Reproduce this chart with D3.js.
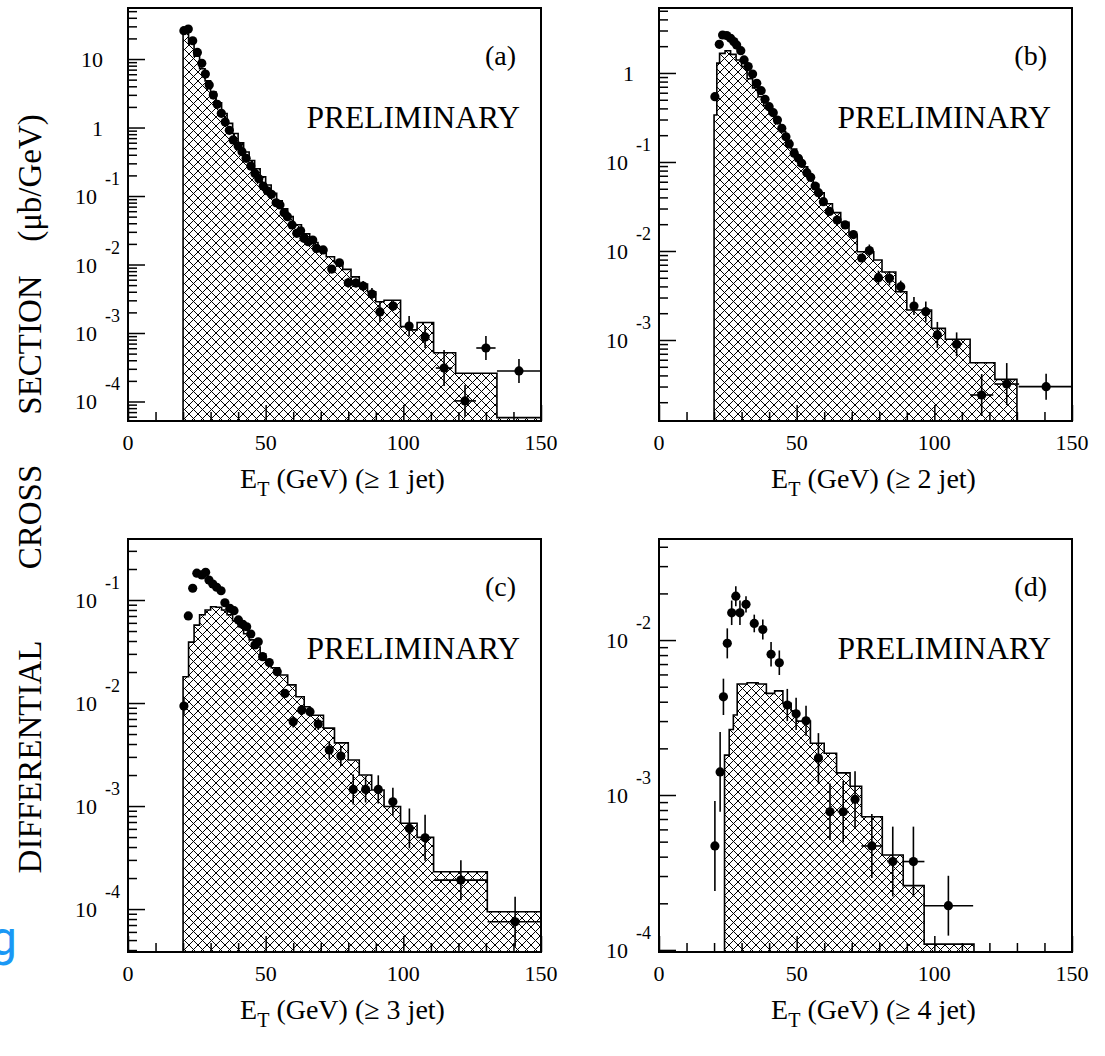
<!DOCTYPE html>
<html>
<head>
<meta charset="utf-8">
<script src="https://cdn.jsdelivr.net/npm/d3@7"></script>
<style>
body { margin: 0; background: #fff; }
svg text { font-family: "Liberation Serif", "Times New Roman", serif; fill: #000; }
</style>
</head>
<body>
<div id="chart"></div>
<script>

// ---- (a) >= 1 jet ----
var aEt    = [20.3,21.9,23.5,25.2,26.8,28.1,29.5,31.0,32.4,33.9,35.3,36.8,38.2,40.0,41.4,42.9,44.6,46.1,47.5,49.1,
              50.6,52.1,53.8,55.2,56.7,57.9,59.6,61.3,62.7,63.9,65.5,67.1,68.5,70.9,74.0,76.8,80.0,82.8,85.4,88.6,
              91.5,96.3,102.1,107.9,114.8,122.4,130.0,142.0];
var aXsec  = [25.9,27.4,18.5,12.5,8.65,6.04,4.17,2.98,2.18,1.61,1.20,0.91,0.658,0.537,0.444,0.355,0.274,0.214,0.179,0.140,
              0.119,0.106,0.0798,0.0740,0.0570,0.0499,0.0378,0.0285,0.0311,0.0241,0.0215,0.0228,0.0172,0.0163,0.00859,0.0106,0.00542,0.00537,0.00485,0.00371,
              0.00203,0.00248,0.00126,0.000875,0.000308,0.000102,0.000604,0.000279];
var aErr   = [0.02,0.02,0.02,0.02,0.02,0.02,0.02,0.02,0.02,0.02,0.02,0.02,0.02,0.02,0.02,0.02,0.03,0.03,0.03,0.03,
              0.03,0.03,0.04,0.04,0.04,0.05,0.05,0.06,0.06,0.06,0.07,0.07,0.08,0.08,0.14,0.12,0.18,0.16,0.18,0.22,
              0.40,0.18,0.40,0.45,0.83,0.71,0.50,0.50];
var aEtErr = [0,0,0,0,0,0,0,0,0,0,0,0,0,0,0,0,0,0,0,0,0,0,0,0,0,0,0,0,0,0,0,0,0,0,0,0,0,0,0,0,
              0,1.5,0,0,3,4,3.5,8];
var aEdges = [20,22,24,26,28,30,32,34,36,38,40,42,44,46,48,50,52,54,56,58,60,
              63,66,69,72,75,78,81,84,87,90,93,99,102,105,111,119,134,150];
var aMc    = [24,17,11,7.2,4.8,3.3,2.3,1.6,1.15,0.82,0.6,0.44,0.33,0.25,0.19,0.145,0.11,0.085,0.065,0.05,
              0.038,0.028,0.021,0.016,0.013,0.0106,0.0085,0.0066,0.0052,0.0040,0.00286,0.0030,0.00124,0.00111,0.00142,0.000515,0.000258,0.0000581];

// ---- (b) >= 2 jet ----
var bEt    = [20.3,21.9,23.1,24.6,26.0,27.2,28.2,29.7,30.9,32.4,34.0,35.5,37.1,38.5,40.0,41.5,43.0,44.6,46.1,47.3,
              49.1,50.6,51.8,53.7,55.1,56.7,57.9,59.7,61.9,64.7,67.6,70.6,73.6,76.4,79.7,83.7,87.8,92.6,96.9,101.1,
              108.1,117.2,126.3,140.6];
var bXsec  = [0.542,2.10,2.67,2.63,2.45,2.25,2.06,1.78,1.40,1.18,0.974,0.766,0.633,0.506,0.418,0.358,0.296,0.239,0.192,0.159,
              0.125,0.110,0.0967,0.0759,0.0673,0.0537,0.0452,0.0358,0.0278,0.0223,0.0196,0.0153,0.00834,0.0101,0.00501,0.00493,0.00397,0.00241,0.00208,0.00114,
              0.000895,0.000241,0.000320,0.000299];
var bErr   = [0.03,0.02,0.02,0.02,0.02,0.02,0.02,0.02,0.02,0.02,0.02,0.02,0.02,0.02,0.03,0.03,0.03,0.03,0.03,0.03,
              0.04,0.04,0.04,0.05,0.05,0.05,0.05,0.06,0.06,0.07,0.08,0.09,0.11,0.17,0.20,0.20,0.17,0.26,0.30,0.40,
              0.36,0.72,0.72,0.40];
var bEtErr = [0,0,0,0,0,0,0,0,0,0,0,0,0,0,0,0,0,0,0,0,0,0,0,0,0,0,0,0,0,0,0,0,0,0,1.5,0,1.5,0,0,0,
              2,4.2,4.5,10];
var bEdges = [20,21,22,24,26,28,30,32,34,36,38,40,42,44,46,48,50,52,54,56,58,60,
              63,66,69,72,78,81,86,90,99,104,113,122,130];
var bMc    = [0.337,1.29,1.66,1.78,1.62,1.40,1.18,0.86,0.68,0.54,0.43,0.345,0.275,0.22,0.175,0.14,0.11,0.088,0.07,0.056,0.045,
              0.034,0.027,0.021,0.0151,0.0098,0.00792,0.0058,0.00349,0.00217,0.00135,0.00102,0.000556,0.000361];

// ---- (c) >= 3 jet ----
var cEt    = [20.3,21.9,23.5,25.0,26.8,28.2,29.4,30.8,32.2,33.8,35.2,37.0,38.5,40.1,41.7,43.1,44.6,46.1,47.3,48.9,
              51.3,54.2,57.0,60.0,63.1,66.1,69.1,73.1,77.3,81.8,86.3,90.9,96.2,102.2,107.9,120.9,140.6];
var cXsec  = [0.00935,0.070,0.130,0.182,0.175,0.186,0.156,0.143,0.133,0.123,0.094,0.083,0.0787,0.064,0.058,0.055,0.0468,0.0366,0.0393,0.0282,
              0.0247,0.0201,0.0124,0.00658,0.00855,0.00824,0.00625,0.0035,0.00306,0.00145,0.00145,0.00145,0.0011,0.000607,0.000492,0.000191,0.0000753];
var cErr   = [0.22,0.04,0.03,0.03,0.03,0.03,0.03,0.03,0.03,0.03,0.03,0.03,0.03,0.04,0.04,0.04,0.04,0.05,0.05,0.05,
              0.05,0.06,0.09,0.14,0.12,0.12,0.14,0.22,0.25,0.40,0.34,0.37,0.37,0.56,0.67,0.56,0.75];
var cEtErr = [0,0,0,0,0,0,0,0,0,0,0,0,0,0,0,0,0,0,0,0,0,0,0,0,0,0,0,0,0,0,0,0,1.5,0,0,9.7,10];
var cEdges = [20,22,24,26,28,30,32,34,36,38,40,42,44,46,48,50,52,
              55,58,61,64,66,71,75,80,84,88.5,93,99,105,111,130.5,150];
var cMc    = [0.018,0.039,0.057,0.072,0.080,0.086,0.085,0.080,0.072,0.063,0.055,0.047,0.041,0.035,0.030,0.026,
              0.022,0.0187,0.015,0.0115,0.0092,0.0076,0.0057,0.0041,0.0028,0.0020,0.00143,0.00099,0.00068,0.000496,0.00023,0.0000942];

// ---- (d) >= 4 jet ----
var dEt    = [20.3,22.2,23.4,24.8,26.4,27.9,29.4,31.6,34.6,37.7,40.7,43.7,46.6,49.8,53.4,57.9,62.1,66.9,71.2,77.3,
              84.9,92.4,105.1];
var dXsec  = [0.000469,0.00141,0.00430,0.00952,0.0150,0.0192,0.0150,0.0170,0.0128,0.0117,0.0081,0.00714,0.00381,0.00334,0.00301,0.00173,0.00078,0.00078,0.000938,0.000469,
              0.000372,0.000372,0.000193];
var dErr   = [0.95,0.81,0.31,0.25,0.20,0.16,0.20,0.13,0.14,0.16,0.20,0.20,0.27,0.27,0.25,0.45,0.52,0.58,0.52,0.61,
              0.68,0.68,0.56];
var dEtErr = [0,0,0,0,0,0,0,0,0,0,0,0,0,0,0,0,0,2,0,3.8,2,4,9];
var dEdges = [23.8,25.5,27,28.4,32,36,39,42,45,48,50,55,60,64.5,69.4,73.6,81.1,88.7,96.3,114.4];
var dMc    = [0.00181,0.00265,0.00328,0.0052,0.0053,0.0052,0.00453,0.0047,0.0039,0.0035,0.0030,0.00216,0.00186,0.00139,0.00114,0.000724,0.00041,0.00026,0.000109];

// axis ranges / labels
var xTicks = [0, 50, 100, 150];
var panelNames = ["(a)", "(b)", "(c)", "(d)"];
var jetLabels = ["\u2265 1 jet", "\u2265 2 jet", "\u2265 3 jet", "\u2265 4 jet"];
var yRanges = [[5.19e-5, 55.6], [1.23e-4, 5.37], [3.83e-5, 0.391], [9.7e-5, 0.0449]];
var yExps = [[1, 0, -1, -2, -3, -4], [0, -1, -2, -3], [-1, -2, -3, -4], [-2, -3, -4]];

var panels = [
    {et: aEt, xs: aXsec, err: aErr, etErr: aEtErr, edges: aEdges, mc: aMc},
    {et: bEt, xs: bXsec, err: bErr, etErr: bEtErr, edges: bEdges, mc: bMc},
    {et: cEt, xs: cXsec, err: cErr, etErr: cEtErr, edges: cEdges, mc: cMc},
    {et: dEt, xs: dXsec, err: dErr, etErr: dEtErr, edges: dEdges, mc: dMc}
];

var width = 1105, height = 1056;
var frames = [{left: 128, top: 8}, {left: 659, top: 8}, {left: 128, top: 539}, {left: 659, top: 539}];
var fw = 413, fh = 413;

var svg = d3.select("#chart")
    .append("svg")
    .attr("width", width)
    .attr("height", height);

svg.append("rect").attr("width", width).attr("height", height).attr("fill", "#fff");

var defs = svg.append("defs");
var pat = defs.append("pattern")
    .attr("id", "hatch")
    .attr("patternUnits", "userSpaceOnUse")
    .attr("width", 9)
    .attr("height", 9);
pat.append("rect").attr("width", 9).attr("height", 9).attr("fill", "#fff");
pat.append("path")
    .attr("d", "M-1,1L1,-1M0,9L9,0M8,10L10,8M-1,8L1,10M0,0L9,9M8,-1L10,1")
    .attr("stroke", "#000")
    .attr("stroke-width", 1);

panels.forEach(function(p, i) {
    var f = frames[i];
    var left = f.left, top = f.top, right = left + fw, bottom = top + fh;

    var x = d3.scaleLinear().domain([0, 150]).range([left, right]);
    var y = d3.scaleLog().domain(yRanges[i]).range([bottom, top]);

    defs.append("clipPath").attr("id", "clip" + i)
        .append("rect").attr("x", left).attr("y", top).attr("width", fw).attr("height", fh);

    var g = svg.append("g");

    // MC histogram, hatched
    var pts = [[x(p.edges[0]), bottom]];
    p.mc.forEach(function(v, k) {
        pts.push([x(p.edges[k]), y(v)]);
        pts.push([x(p.edges[k + 1]), y(v)]);
    });
    pts.push([x(p.edges[p.edges.length - 1]), bottom]);

    g.append("path")
        .attr("clip-path", "url(#clip" + i + ")")
        .attr("d", d3.line()(pts) + "Z")
        .attr("fill", "url(#hatch)")
        .attr("stroke", "#000")
        .attr("stroke-width", 1.6)
        .attr("stroke-linejoin", "miter");

    // ticks (inside)
    var minor = y.ticks().filter(function(t) {
        var e = Math.log10(t);
        return Math.abs(e - Math.round(e)) > 1e-6;
    });
    var major = yExps[i].map(function(e) { return Math.pow(10, e); });

    g.append("g")
        .attr("transform", "translate(" + left + ",0)")
        .call(d3.axisLeft(y).tickValues(minor).tickSize(-9).tickFormat(""))
        .call(function(s) { s.select(".domain").remove(); });
    g.append("g")
        .attr("transform", "translate(" + left + ",0)")
        .call(d3.axisLeft(y).tickValues(major).tickSize(-17).tickFormat(""))
        .call(function(s) { s.select(".domain").remove(); });

    var xMinor = d3.range(10, 150, 10).filter(function(t) { return t % 50 != 0; });
    g.append("g")
        .attr("transform", "translate(0," + bottom + ")")
        .call(d3.axisBottom(x).tickValues(xMinor).tickSize(-9).tickFormat(""))
        .call(function(s) { s.select(".domain").remove(); });
    g.append("g")
        .attr("transform", "translate(0," + bottom + ")")
        .call(d3.axisBottom(x).tickValues(xTicks).tickSize(-16).tickFormat(""))
        .call(function(s) { s.select(".domain").remove(); });

    g.selectAll(".tick line").attr("stroke", "#000").attr("stroke-width", 1.5);

    // frame
    g.append("rect")
        .attr("x", left).attr("y", top)
        .attr("width", fw).attr("height", fh)
        .attr("fill", "none")
        .attr("stroke", "#000")
        .attr("stroke-width", 2);

    // y labels
    yExps[i].forEach(function(e) {
        var ty = y(Math.pow(10, e));
        if (e == 0 || e == 1) {
            g.append("text")
                .attr("x", left - 25).attr("y", ty + 8)
                .attr("text-anchor", "end")
                .attr("font-size", 22)
                .text(e == 1 ? "10" : "1");
        } else {
            g.append("text")
                .attr("x", left - 31).attr("y", ty + 8)
                .attr("text-anchor", "end")
                .attr("font-size", 22)
                .text("10");
            g.append("text")
                .attr("x", left - 8).attr("y", ty - 11)
                .attr("text-anchor", "end")
                .attr("font-size", 18)
                .text("-" + Math.abs(e));
        }
    });

    // x labels
    xTicks.forEach(function(t) {
        g.append("text")
            .attr("x", x(t)).attr("y", bottom + 29)
            .attr("text-anchor", "middle")
            .attr("font-size", 22)
            .text(t);
    });

    var title = g.append("text")
        .attr("x", (left + right) / 2 + 8).attr("y", bottom + 67)
        .attr("text-anchor", "middle")
        .attr("font-size", 28);
    title.append("tspan").text("E");
    title.append("tspan").attr("font-size", 20).attr("dy", 8).text("T");
    title.append("tspan").attr("dy", -8).text(" (GeV) (" + jetLabels[i] + ")");

    g.append("text")
        .attr("x", right - 25).attr("y", top + 57)
        .attr("text-anchor", "end")
        .attr("font-size", 28)
        .text(panelNames[i]);

    g.append("text")
        .attr("x", right - 21).attr("y", top + 120)
        .attr("text-anchor", "end")
        .attr("font-size", 31.5)
        .text("PRELIMINARY");

    // data points with error bars
    var data = p.et.map(function(e, k) {
        return {et: e, xs: p.xs[k], err: p.err[k], etErr: p.etErr[k]};
    });

    var pg = g.append("g").attr("clip-path", "url(#clip" + i + ")");

    pg.selectAll("line.ey")
        .data(data)
        .enter()
        .append("line")
            .attr("class", "ey")
            .attr("x1", function(d) { return x(d.et); })
            .attr("x2", function(d) { return x(d.et); })
            .attr("y1", function(d) { return y(d.xs * (1 + d.err)); })
            .attr("y2", function(d) { return y(d.xs / (1 + d.err)); })
            .attr("stroke", "#000")
            .attr("stroke-width", 1.6);

    pg.selectAll("line.ex")
        .data(data.filter(function(d) { return d.etErr > 0; }))
        .enter()
        .append("line")
            .attr("class", "ex")
            .attr("x1", function(d) { return x(d.et - d.etErr); })
            .attr("x2", function(d) { return x(d.et + d.etErr); })
            .attr("y1", function(d) { return y(d.xs); })
            .attr("y2", function(d) { return y(d.xs); })
            .attr("stroke", "#000")
            .attr("stroke-width", 1.6);

    pg.selectAll("circle")
        .data(data)
        .enter()
        .append("circle")
            .attr("cx", function(d) { return x(d.et); })
            .attr("cy", function(d) { return y(d.xs); })
            .attr("r", 4.6)
            .attr("fill", "#000");
});

// shared y title
var yWords = [["DIFFERENTIAL", 757], ["CROSS", 517], ["SECTION", 345], ["(\u03bcb/GeV)", 178]];
yWords.forEach(function(w) {
    svg.append("text")
        .attr("transform", "translate(41," + w[1] + ") rotate(-90)")
        .attr("text-anchor", "middle")
        .attr("font-size", 33)
        .text(w[0]);
});

svg.append("text")
    .attr("x", -10).attr("y", 955)
    .attr("font-size", 48)
    .style("font-family", "Roboto, sans-serif")
    .style("fill", "#1a98f5")
    .text("g");

</script>
</body>
</html>
